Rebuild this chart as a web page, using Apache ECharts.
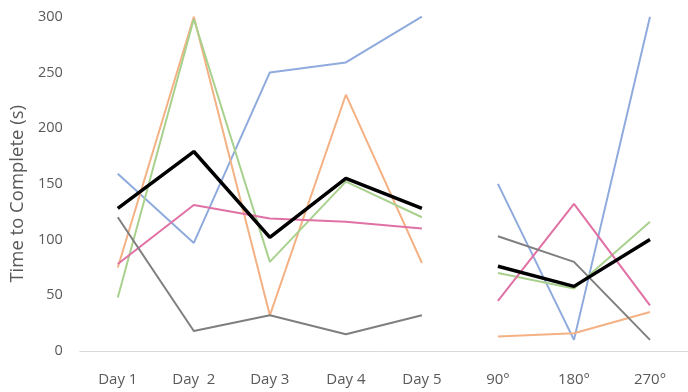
<!DOCTYPE html>
<html>
<head>
<meta charset="utf-8">
<script src="https://cdn.jsdelivr.net/npm/echarts@6/dist/echarts.min.js"></script>
<style>
  html, body { margin: 0; padding: 0; background: #fff; }
  #chart { width: 688px; height: 392px; }
</style>
</head>
<body>
<div id="chart"></div>
<script>
// categories: 5 days, then 3 rotation angles (lines break between the two groups)
const categories = ['Day 1', 'Day  2', 'Day 3', 'Day 4', 'Day 5', '90°', '180°', '270°'];
const dayCount = 5;

// time to complete (s)
const blueValues = [159, 97, 250, 259, 300, 150, 10, 300];
const orangeValues = [75, 300, 32, 230, 79, 13, 16, 35];
const greenValues = [48, 298, 80, 152, 120, 70, 56, 116];
const pinkValues = [78, 131, 119, 116, 110, 45, 132, 41];
const grayValues = [120, 18, 32, 15, 32, 103, 80, 10];
const blackValues = [128, 179, 102, 155, 128, 76, 58, 100];

const lines = [
  { name: 'A', values: blueValues, color: '#8faadc', width: 2 },
  { name: 'B', values: orangeValues, color: '#f4b183', width: 2 },
  { name: 'C', values: greenValues, color: '#a9d18e', width: 2 },
  { name: 'D', values: pinkValues, color: '#e071a5', width: 2 },
  { name: 'E', values: grayValues, color: '#7f7f7f', width: 2 },
  { name: 'Mean', values: blackValues, color: '#000000', width: 3.5 },
];

const textColor = '#595959';
const font = '"Open Sans", sans-serif';

// each line is split into a "days" part and an "angles" part
const series = [];
lines.forEach((l, i) => {
  const days = l.values.map((v, k) => (k < dayCount ? v : '-'));
  const angles = l.values.map((v, k) => (k >= dayCount ? v : '-'));
  [days, angles].forEach((data) => {
    series.push({
      name: l.name,
      type: 'line',
      data: data,
      showSymbol: false,
      connectNulls: false,
      z: 2 + i,
      lineStyle: { color: l.color, width: l.width },
      itemStyle: { color: l.color },
      animation: false,
    });
  });
});

const chart = echarts.init(document.getElementById('chart'));
chart.setOption({
  backgroundColor: '#ffffff',
  grid: { left: 79, top: 16.7, width: 622, height: 334.3 },
  xAxis: {
    type: 'category',
    data: categories,
    boundaryGap: true,
    axisLine: { lineStyle: { color: '#d9d9d9', width: 1 } },
    axisTick: { show: false },
    axisLabel: { color: textColor, fontSize: 15, fontFamily: font, margin: 21, interval: 0 },
  },
  yAxis: {
    type: 'value',
    min: 0,
    max: 300,
    interval: 50,
    name: 'Time to Complete (s)',
    nameLocation: 'middle',
    nameGap: 51,
    nameTextStyle: { color: textColor, fontSize: 18.5, fontFamily: font, padding: [0, 20, 0, 0] },
    axisLine: { show: false },
    axisTick: { show: false },
    splitLine: { show: false },
    axisLabel: { color: textColor, fontSize: 14.5, fontFamily: font, margin: 17 },
  },
  series: series,
});
</script>
</body>
</html>
